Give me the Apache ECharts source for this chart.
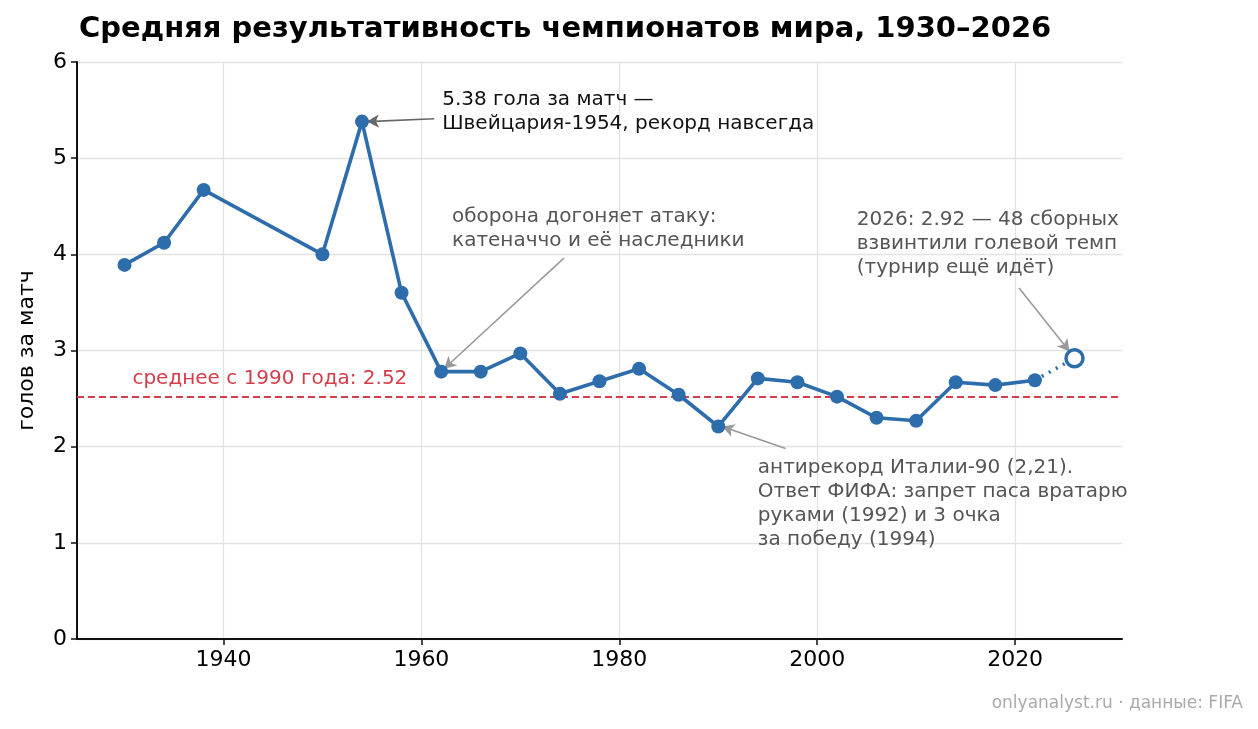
<!DOCTYPE html>
<html>
<head>
<meta charset="utf-8">
<script src="https://cdn.jsdelivr.net/npm/echarts@6/dist/echarts.min.js"></script>
<style>
  html, body { margin: 0; padding: 0; background: #fff; }
  #chart { width: 1258px; height: 729px; }
</style>
</head>
<body>
<div id="chart"></div>
<script>
// годы и средняя результативность
const years = [1930, 1934, 1938, 1950, 1954, 1958, 1962, 1966, 1970, 1974, 1978, 1982,
  1986, 1990, 1994, 1998, 2002, 2006, 2010, 2014, 2018, 2022];
const goals = [3.89, 4.12, 4.67, 4.00, 5.38, 3.60, 2.78, 2.78, 2.97, 2.55, 2.68, 2.81,
  2.54, 2.21, 2.71, 2.67, 2.52, 2.30, 2.27, 2.67, 2.64, 2.69];
const current = [2026, 2.92];
const avgSince1990 = 2.52;
const xTicks = [1940, 1960, 1980, 2000, 2020];

// подписи: [x, y, текст, цвет]
const notes = [
  [1962.1, 5.73, "5.38 гола за матч —\nШвейцария-1954, рекорд навсегда", "#111"],
  [1963.1, 4.52, "оборона догоняет атаку:\nкатеначчо и её наследники", "#555"],
  [2004.0, 4.48, "2026: 2.92 — 48 сборных\nвзвинтили голевой темп\n(турнир ещё идёт)", "#555"],
  [1994.0, 1.91, "антирекорд Италии-90 (2,21).\nОтвет ФИФА: запрет паса вратарю\nруками (1992) и 3 очка\nза победу (1994)", "#555"]
];
// стрелки: [из, в, цвет]
const arrows = [
  [[1961.3, 5.41], [1954.5, 5.38], "#666"],
  [[1974.4, 3.96], [1962.3, 2.81], "#999"],
  [[2020.4, 3.65], [2025.5, 2.99], "#999"],
  [[1996.8, 1.98], [1990.4, 2.21], "#999"]
];

const FONT = "DejaVu Sans";
const BLUE = "#2e6dab";
const RED = "#d43d4a";

const chart = echarts.init(document.getElementById("chart"));
chart.setOption({
  animation: false,
  textStyle: { fontFamily: FONT },
  title: {
    text: "Средняя результативность чемпионатов мира, 1930–2026",
    left: 74, top: 10,
    textStyle: { fontFamily: FONT, fontWeight: "bold", fontSize: 29, color: "#000" }
  },
  graphic: [{
    type: "text", right: 15, top: 695,
    style: { text: "onlyanalyst.ru · данные: FIFA", fill: "#aaa", font: "17px " + FONT }
  }],
  grid: { left: 77, right: 136, top: 62, bottom: 90, outerBoundsMode: "none" },
  xAxis: {
    type: "value", min: 1925.2, max: 2030.8,
    axisLine: { lineStyle: { color: "#111", width: 2 } },
    axisTick: { show: true, length: 6, customValues: xTicks, lineStyle: { color: "#111", width: 1.5 } },
    axisLabel: { customValues: xTicks, color: "#000", fontSize: 22, margin: 10, formatter: v => String(v) },
    splitLine: { show: true, lineStyle: { color: "#e3e3e3", width: 1.3 } }
  },
  yAxis: {
    type: "value", min: 0, max: 6, interval: 1,
    name: "голов за матч", nameLocation: "middle", nameGap: 39, nameRotate: 90,
    nameTextStyle: { color: "#000", fontSize: 22, fontFamily: FONT },
    axisLine: { show: true, lineStyle: { color: "#111", width: 2 } },
    axisTick: { show: true, length: 6, lineStyle: { color: "#111", width: 1.5 } },
    axisLabel: { color: "#000", fontSize: 22, margin: 10 },
    splitLine: { show: true, lineStyle: { color: "#e3e3e3", width: 1.3 } }
  },
  series: [
    {
      type: "line",
      data: years.map((y, i) => [y, goals[i]]),
      symbol: "circle", symbolSize: 14, showAllSymbol: true,
      lineStyle: { color: BLUE, width: 3.6 },
      itemStyle: { color: BLUE },
      z: 5,
      markLine: {
        silent: true, symbol: "none",
        lineStyle: { color: RED, type: [7, 4], width: 2, opacity: 1 },
        label: { show: false },
        data: [{ yAxis: avgSince1990 }]
      }
    },
    {
      type: "line",
      data: [
        { value: [years[years.length - 1], goals[goals.length - 1]], symbol: "none" },
        { value: current, symbol: "circle", symbolSize: 17 }
      ],
      lineStyle: { color: BLUE, width: 3.6, type: [2, 6] },
      itemStyle: { color: "#fff", borderColor: BLUE, borderWidth: 3.5 },
      z: 6
    },
    {
      type: "scatter",
      symbolSize: 0,
      silent: true,
      itemStyle: { opacity: 1 },
      data: notes.map(n => ({
        value: [n[0], n[1]],
        label: {
          show: true, formatter: n[2], position: [0, 0],
          align: "left", verticalAlign: "top", opacity: 1,
          color: n[3], fontSize: 20, lineHeight: 24, fontFamily: FONT
        }
      })).concat([{
        value: [1930.8, 2.83],
        label: {
          show: true, formatter: "среднее с 1990 года: " + avgSince1990.toFixed(2),
          position: [0, 0], align: "left", verticalAlign: "top", opacity: 1,
          color: RED, fontSize: 20, lineHeight: 24, fontFamily: FONT
        }
      }]),
      markLine: {
        silent: true,
        symbol: ["none", "arrow"], symbolSize: [10, 12],
        label: { show: false },
        data: arrows.map(a => [
          { coord: a[0], lineStyle: { color: a[2], width: 1.6, type: "solid", opacity: 1 } },
          { coord: a[1] }
        ])
      }
    }
  ]
});
</script>
</body>
</html>
